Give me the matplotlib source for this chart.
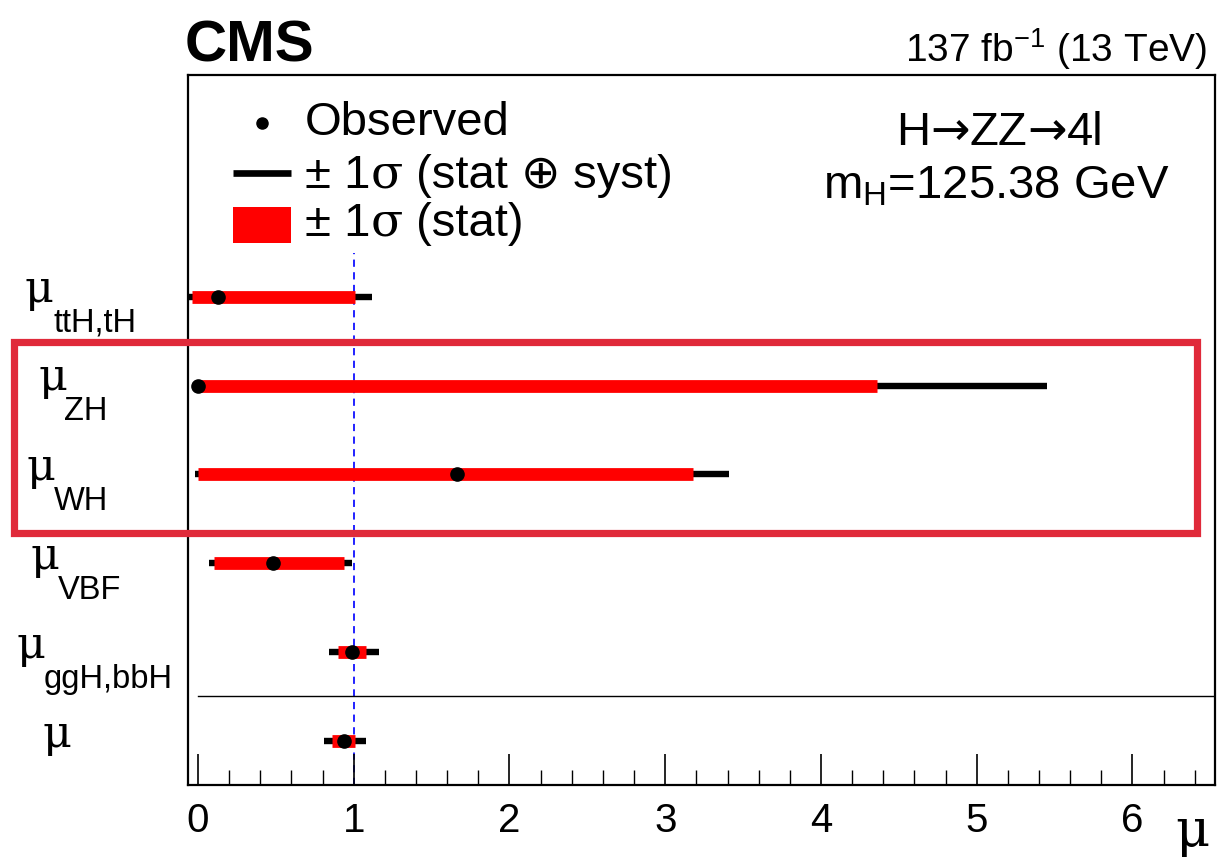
import matplotlib
matplotlib.use("Agg")
import matplotlib.pyplot as plt
from matplotlib.patches import Rectangle
from matplotlib.lines import Line2D
from matplotlib.ticker import MultipleLocator

plt.rcParams["font.family"] = ["Liberation Sans", "DejaVu Sans"]
plt.rcParams["mathtext.fontset"] = "custom"
plt.rcParams["mathtext.rm"] = "Liberation Sans"
plt.rcParams["mathtext.it"] = "Liberation Sans:italic"
plt.rcParams["mathtext.bf"] = "Liberation Sans:bold"

# Signal-strength modifiers, top to bottom
categories = ["ttH,tH", "ZH", "WH", "VBF", "ggH,bbH", ""]
mu_obs = [0.13, 0.00, 1.66, 0.48, 0.99, 0.94]
stat_lo = [-0.04, 0.00, 0.00, 0.10, 0.90, 0.86]
stat_hi = [1.01, 4.36, 3.18, 0.94, 1.08, 1.01]
tot_lo = [-0.10, 0.00, -0.02, 0.07, 0.84, 0.81]
tot_hi = [1.12, 5.45, 3.41, 0.99, 1.16, 1.08]
x_ticks = [0, 1, 2, 3, 4, 5, 6]

W, H = 1220, 861
fig = plt.figure(figsize=(W / 100, H / 100), dpi=100)
renderer = fig.canvas.get_renderer()


def fx(px):
    return px / W


def fy(py):
    return 1 - py / H


def pieces(x0, y0, parts, size, ha="left"):
    """Draw consecutive text pieces (string, family) on one baseline."""
    arts = []
    for s, fam in parts:
        t = fig.text(0, fy(y0), s, fontsize=size, family=fam,
                     ha="left", va="baseline")
        arts.append(t)
    widths = [a.get_window_extent(renderer).width for a in arts]
    total = sum(widths)
    x = x0 - total / 2 if ha == "center" else x0
    for a, w in zip(arts, widths):
        a.set_x(fx(x))
        x += w


ax = fig.add_axes([fx(188), fy(785), fx(1215) - fx(188), fy(75) - fy(785)])
ax.set_xlim(-0.064, 6.53)
ax.set_ylim(0, 8)

n = len(categories)
ypos = [n - 0.5 - i for i in range(n)]

ax.hlines(ypos, tot_lo, tot_hi, colors="black", lw=4.6, capstyle="butt", zorder=2)
ax.hlines(ypos, stat_lo, stat_hi, colors="#ff0000", lw=9.2, capstyle="butt", zorder=3)
ax.plot(mu_obs, ypos, "o", color="black", ms=9.5, zorder=4)

# SM expectation and separator of the inclusive result
ax.plot([1, 1], [0, 6], color="#1010ff", lw=1.3, ls=(0, (4, 3)), zorder=1)
ax.plot([0, 6.53], [1, 1], color="black", lw=1.0, zorder=1)

for s in ax.spines.values():
    s.set_linewidth(1.6)

ax.set_yticks([])
ax.set_xticks(x_ticks)
ax.xaxis.set_minor_locator(MultipleLocator(0.2))
ax.tick_params(axis="x", which="major", direction="in", length=22, width=1.2,
               labelsize=29, pad=12)
ax.tick_params(axis="x", which="minor", direction="in", length=11, width=1.0)
ax.tick_params(top=False)

# Axis title
fig.text(fx(1192), fy(846), "\u03bc", family="DejaVu Serif", fontsize=38,
         ha="center", va="baseline")

# Row labels: mu with lowered subscript
mu_x = [25, 38, 27, 30, 17, 42]
sub_x = [53, 64, 54, 58, 44, 0]
row_px = [296, 384, 474, 563, 652, 741]
for i, cat in enumerate(categories):
    fig.text(fx(mu_x[i]), fy(row_px[i] + 6), "\u03bc", family="DejaVu Serif",
             fontsize=32, ha="left", va="baseline")
    if cat:
        fig.text(fx(sub_x[i]), fy(row_px[i] + 36), cat, fontsize=23.5,
                 ha="left", va="baseline")

# Header
fig.text(fx(185), fy(62), "CMS", fontsize=42, fontweight="bold",
         ha="left", va="baseline")
fig.text(fx(1207), fy(62), r"137 fb$^{\mathrm{-1}}$ (13 TeV)", fontsize=28,
         ha="right", va="baseline")

# Legend
fig.add_artist(Line2D([fx(262)], [fy(123)], marker="o", color="black", ms=8,
                      transform=fig.transFigure))
fig.add_artist(Line2D([fx(233), fx(291)], [fy(173), fy(173)], color="black",
                      lw=4.8, solid_capstyle="butt", transform=fig.transFigure))
fig.add_artist(Rectangle((fx(233), fy(243)), fx(291) - fx(233), fy(207) - fy(243),
                         facecolor="#ff0000", edgecolor="none",
                         transform=fig.transFigure))
fig.text(fx(305), fy(135), "Observed", fontsize=34, ha="left", va="baseline")
pieces(305, 188, [("\u00b1 1", "Liberation Sans"), ("\u03c3", "DejaVu Serif"),
                  (" (stat ", "Liberation Sans"), ("\u2295", "DejaVu Sans"),
                  (" syst)", "Liberation Sans")], 34)
pieces(305, 236, [("\u00b1 1", "Liberation Sans"), ("\u03c3", "DejaVu Serif"),
                  (" (stat)", "Liberation Sans")], 34)

# Channel info
pieces(1000, 145, [("H", "Liberation Sans"), ("\u2192", "DejaVu Sans"),
                   ("ZZ", "Liberation Sans"), ("\u2192", "DejaVu Sans"),
                   ("4l", "Liberation Sans")], 34, ha="center")
fig.text(fx(996), fy(198), r"m$_{\mathrm{H}}$=125.38 GeV", fontsize=34,
         ha="center", va="baseline")

# Highlight of the VH categories
fig.add_artist(Rectangle((fx(14), fy(533)), fx(1197) - fx(14), fy(342) - fy(533),
                         facecolor="none", edgecolor="#e02a3a", lw=5.2,
                         transform=fig.transFigure))

fig.savefig("out.png", dpi=100)
